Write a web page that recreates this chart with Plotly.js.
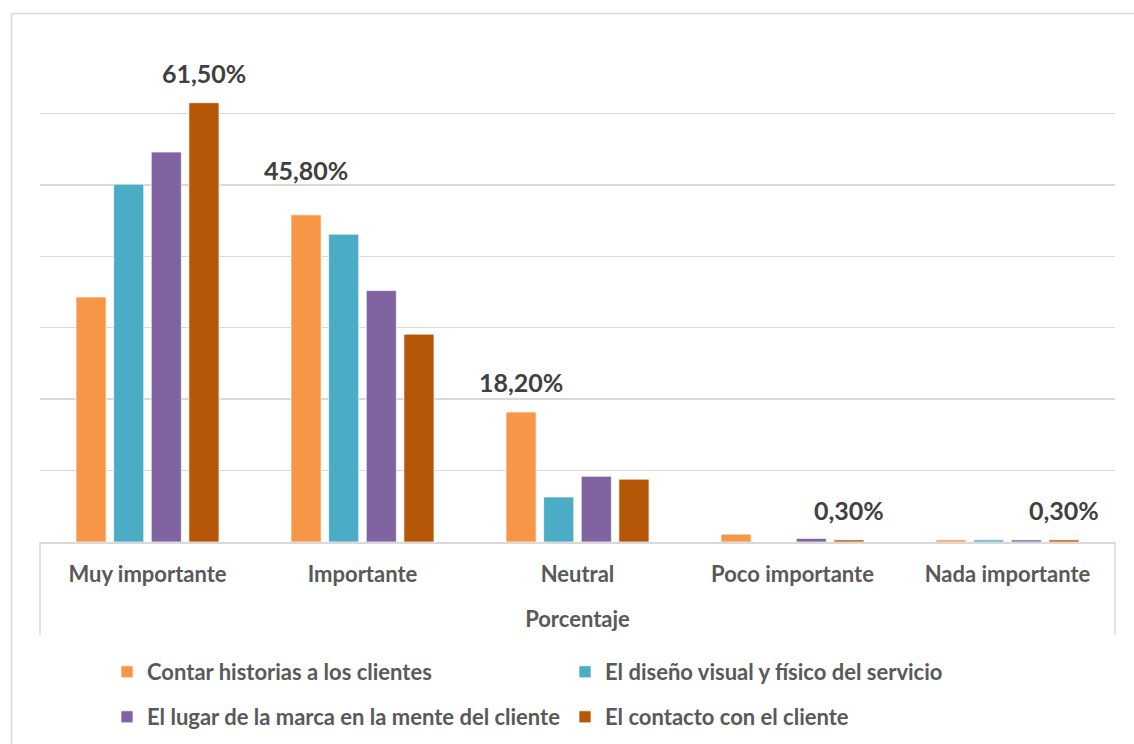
<!DOCTYPE html>
<html>
<head>
<meta charset="utf-8">
<script src="https://cdn.plot.ly/plotly-3.0.1.min.js"></script>
<style>
  html, body { margin: 0; padding: 0; background: #ffffff; }
  #chart { width: 1134px; height: 744px; }
</style>
</head>
<body>
<div id="chart"></div>
<script>
// Categories on the horizontal axis
const categories = ['Muy importante', 'Importante', 'Neutral', 'Poco importante', 'Nada importante'];

// Series names
const seriesNames = [
  'Contar historias a los clientes',
  'El diseño visual y físico del servicio',
  'El lugar de la marca en la mente del cliente',
  'El contacto con el cliente'
];

// Percentages per series, one value per category
const historias = [34.3, 45.8, 18.2, 1.1, 0.3];
const disenoVisual = [50.1, 43.1, 6.3, 0.0, 0.3];
const lugarMarca = [54.6, 35.2, 9.2, 0.5, 0.3];
const contacto = [61.5, 29.1, 8.8, 0.3, 0.3];

// Which points carry a value label: [series index, category index]
const labelled = [[3, 0], [0, 1], [0, 2], [3, 3], [3, 4]];
// extra lift (px) per label, so the Importante label clears its neighbours
const labelLift = [0, 15, 0, 0, 0];

const colors = ['#F79646', '#4BACC6', '#8064A2', '#B65708'];
const seriesValues = [historias, disenoVisual, lugarMarca, contacto];

const BARGAP = 0.3;
const nSeries = seriesValues.length;
const slot = (1 - BARGAP) / nSeries;

const fmt = v => v.toFixed(2).replace('.', ',') + '%';
const FONT = 'Lato, "Open Sans", sans-serif';

const traces = seriesValues.map((vals, i) => ({
  type: 'bar',
  name: seriesNames[i],
  x: categories,
  y: vals,
  marker: { color: colors[i], line: { color: 'rgba(255,255,255,0.7)', width: 1 } },
  legend: i < 2 ? 'legend' : 'legend2',
  hoverinfo: 'x+y+name'
}));

const annotations = labelled.map(([s, c], k) => ({
  xref: 'x', yref: 'y',
  x: c + (s - (nSeries - 1) / 2) * slot,
  y: seriesValues[s][c],
  text: fmt(seriesValues[s][c]),
  showarrow: false,
  yanchor: 'bottom',
  yshift: 13 + labelLift[k],
  font: { family: FONT, size: 25, color: '#404040', weight: 'bold' }
}));

const grey = '#d9d9d9';
const W = 1134, H = 744;
const px = v => (v - 40) / 1075;      // horizontal pixel -> paper
const py = v => (542 - v) / 500;      // vertical pixel -> paper

const shapes = [
  // chart frame
  { type: 'line', xref: 'paper', yref: 'paper', x0: px(11.5), x1: px(11.5), y0: py(13.5), y1: py(760), line: { color: grey, width: 1.5 } },
  { type: 'line', xref: 'paper', yref: 'paper', x0: px(11.5), x1: px(1140), y0: py(13.5), y1: py(13.5), line: { color: grey, width: 1.5 } },
  // category axis box sides
  { type: 'line', xref: 'paper', yref: 'paper', x0: 0, x1: 0, y0: 0, y1: py(635), line: { color: grey, width: 1.5 } },
  { type: 'line', xref: 'paper', yref: 'paper', x0: 1, x1: 1, y0: 0, y1: py(635), line: { color: grey, width: 1.5 } }
];

const textFont = { family: FONT, size: 22, color: '#595959', weight: 'bold' };

const legendBase = {
  orientation: 'h',
  xref: 'container', yref: 'container',
  x: 107 / W, xanchor: 'left',
  yanchor: 'top',
  entrywidth: 413, entrywidthmode: 'pixels',
  font: textFont,
  itemclick: false, itemdoubleclick: false,
  bgcolor: 'rgba(0,0,0,0)'
};

const layout = {
  width: W,
  height: H,
  margin: { l: 40, r: 19, t: 42, b: 202, autoexpand: false },
  paper_bgcolor: '#ffffff',
  plot_bgcolor: '#ffffff',
  barmode: 'group',
  bargap: BARGAP,
  bargroupgap: 0.2,
  xaxis: {
    type: 'category',
    automargin: false,
    showline: true,
    linecolor: grey,
    linewidth: 1.5,
    ticks: '',
    tickfont: textFont,
    ticklabelstandoff: 12,
    title: { text: 'Porcentaje', font: textFont, standoff: 25 },
    fixedrange: true
  },
  yaxis: {
    range: [0, 70],
    dtick: 10,
    automargin: false,
    showticklabels: false,
    showgrid: true,
    gridcolor: grey,
    gridwidth: 1.5,
    zeroline: false,
    ticks: '',
    fixedrange: true
  },
  legend: Object.assign({}, legendBase, { y: 1 - 651 / H }),
  legend2: Object.assign({}, legendBase, { y: 1 - 696 / H }),
  annotations: annotations,
  shapes: shapes,
  showlegend: true
};

Plotly.newPlot('chart', traces, layout, { displayModeBar: false, staticPlot: true });
</script>
</body>
</html>
